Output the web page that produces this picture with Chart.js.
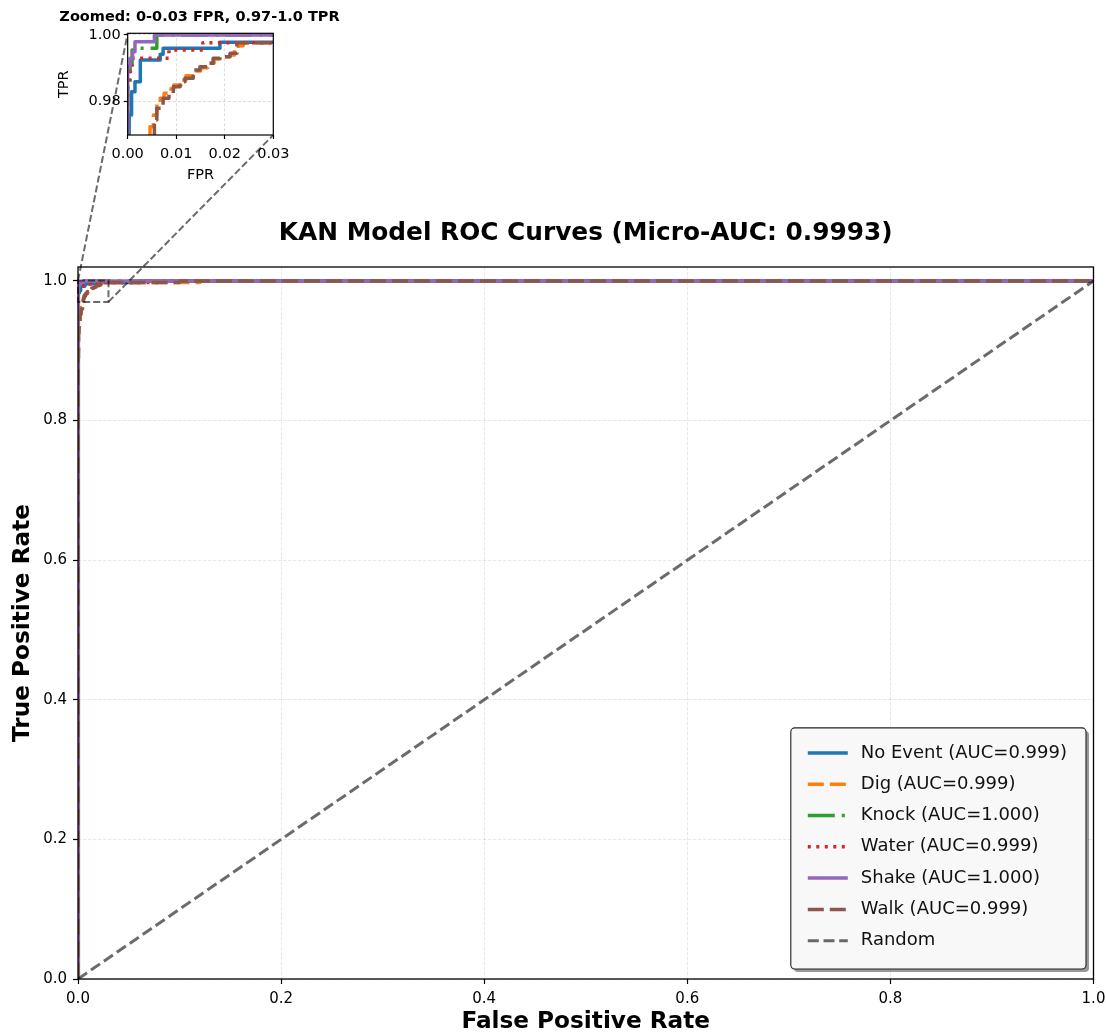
<!DOCTYPE html>
<html><head><meta charset="utf-8">
<script src="https://cdn.jsdelivr.net/npm/chart.js@4.4.1/dist/chart.umd.min.js"></script>
<style>
html,body{margin:0;padding:0;background:#fff;}
#wrap{position:relative;width:1106px;height:1032px;}
#main{position:absolute;left:0;top:0;}
#inset{position:absolute;left:0;top:0;}
</style></head><body>
<div id="wrap"><canvas id="main" width="1106" height="1032"></canvas><canvas id="inset" width="380" height="200"></canvas></div>
<script>
// ---------------- DATA ----------------
const chartTitle = 'KAN Model ROC Curves (Micro-AUC: 0.9993)';
const insetTitle = 'Zoomed: 0-0.03 FPR, 0.97-1.0 TPR';
const classNames = ['No Event', 'Dig', 'Knock', 'Water', 'Shake', 'Walk'];
const aucValues = ['0.999', '0.999', '1.000', '0.999', '1.000', '0.999'];
const randomLabel = 'Random';

// ROC corner points (fpr, tpr after each jump)
const noEventFpr = [0, 0, 0.0003, 0.0008, 0.0015, 0.0026, 0.0067, 0.0073, 0.019, 0.06, 1];
const noEventTpr = [0, 0.955, 0.976, 0.983, 0.986, 0.9925, 0.9942, 0.996, 0.9978, 1.0, 1.0];

const digFpr = [0, 0, 0.0005, 0.001, 0.002, 0.003, 0.004, 0.0046, 0.0053, 0.006, 0.0067, 0.0075, 0.0085, 0.0095, 0.011, 0.012, 0.0133, 0.015, 0.0165, 0.0178, 0.019, 0.021, 0.022, 0.0228, 0.0238, 0.12, 1];
const digTpr = [0, 0.90, 0.93, 0.945, 0.955, 0.962, 0.967, 0.9725, 0.976, 0.9795, 0.981, 0.9825, 0.9838, 0.985, 0.9865, 0.9878, 0.9892, 0.9902, 0.9915, 0.9928, 0.9935, 0.994, 0.9955, 0.9968, 0.9977, 1.0, 1.0];

const knockFpr = [0, 0, 0.0005, 0.0009, 0.0013, 0.006, 1];
const knockTpr = [0, 0.985, 0.991, 0.9955, 0.996, 1.0, 1.0];

const waterFpr = [0, 0, 0.0003, 0.0006, 0.001, 0.0085, 0.0155, 0.08, 1];
const waterTpr = [0, 0.9865, 0.989, 0.991, 0.993, 0.9955, 0.9977, 1.0, 1.0];

const shakeFpr = [0, 0, 0.0005, 0.001, 0.0015, 0.0055, 1];
const shakeTpr = [0, 0.9905, 0.993, 0.995, 0.998, 1.0, 1.0];

const walkFpr = [0, 0, 0.0005, 0.001, 0.002, 0.003, 0.0045, 0.0055, 0.006, 0.0073, 0.0085, 0.0094, 0.0108, 0.0118, 0.0135, 0.0149, 0.0165, 0.0176, 0.019, 0.0211, 0.0225, 0.1, 1];
const walkTpr = [0, 0.89, 0.925, 0.94, 0.952, 0.96, 0.966, 0.9745, 0.978, 0.981, 0.9825, 0.9845, 0.986, 0.987, 0.9895, 0.9905, 0.9915, 0.993, 0.9935, 0.9945, 0.9977, 1.0, 1.0];

const randomFpr = [0, 1];
const randomTpr = [0, 1];

const xTicks = [0, 0.2, 0.4, 0.6, 0.8, 1.0];
const yTicks = [0, 0.2, 0.4, 0.6, 0.8, 1.0];
const insetXTicks = [0, 0.01, 0.02, 0.03];
const insetYTicks = [0.98, 1.0];
const mainXRange = [0, 1];
const mainYRange = [0, 1.02];
const insetXRange = [0, 0.03];
const insetYRange = [0.97, 1.0005];

// ---------------- STYLE ----------------
const colors = ['#1f77b4', '#ff7f0e', '#2ca02c', '#d62728', '#9467bd', '#8c564b'];
const dashes = [[], [16, 6], [27, 7, 3, 7], [3, 5.5], [], [16, 6]];
const FONT = 'DejaVu Sans';
Chart.defaults.font.family = FONT;
Chart.defaults.color = '#000';

const allFpr = [noEventFpr, digFpr, knockFpr, waterFpr, shakeFpr, walkFpr];
const allTpr = [noEventTpr, digTpr, knockTpr, waterTpr, shakeTpr, walkTpr];

function staircase(xs, ys) {
  const pts = [{x: xs[0], y: ys[0]}];
  for (let i = 1; i < xs.length; i++) {
    pts.push({x: xs[i], y: ys[i - 1]});
    pts.push({x: xs[i], y: ys[i]});
  }
  return pts;
}

function makeDatasets(withRandom) {
  const n = classNames.length;
  const ds = classNames.map((name, i) => ({
    label: name + ' (AUC=' + aucValues[i] + ')',
    data: staircase(allFpr[i], allTpr[i]),
    borderColor: colors[i], backgroundColor: colors[i],
    borderWidth: 3.5, borderDash: dashes[i],
    borderJoinStyle: 'round', borderCapStyle: 'butt',
    showLine: true, pointRadius: 0, fill: false, clip: 0,
    order: n + 1 - i
  }));
  if (withRandom) {
    ds.push({
      label: randomLabel,
      data: randomFpr.map((x, j) => ({x: x, y: randomTpr[j]})),
      borderColor: 'rgba(0,0,0,0.58)', backgroundColor: 'rgba(0,0,0,0.58)',
      borderWidth: 3, borderDash: [11, 4.7], borderCapStyle: 'butt',
      showLine: true, pointRadius: 0, fill: false, clip: 0, order: 0
    });
  }
  return ds;
}

function fixedTicks(list) {
  return function (scale) { scale.ticks = list.map(v => ({value: v})); };
}

// ---------------- INSET ----------------
const insetPlugin = {
  id: 'insetDecor',
  beforeDraw(chart) {
    const a = chart.chartArea, ctx = chart.ctx;
    ctx.save(); ctx.fillStyle = '#fff';
    ctx.fillRect(a.left, a.top, a.right - a.left, a.bottom - a.top);
    ctx.restore();
  },
  afterDatasetsDraw(chart) {
    const a = chart.chartArea, ctx = chart.ctx;
    ctx.save(); ctx.strokeStyle = '#000'; ctx.lineWidth = 1.2; ctx.setLineDash([]);
    ctx.strokeRect(a.left, a.top, a.right - a.left, a.bottom - a.top);
    ctx.restore();
  }
};

const insetChart = new Chart(document.getElementById('inset'), {
  type: 'scatter',
  data: {datasets: makeDatasets(false)},
  plugins: [insetPlugin],
  options: {
    responsive: false, animation: false, events: [],
    layout: {padding: {left: 27.7, right: 8.7, top: 0, bottom: 0}},
    plugins: {
      legend: {display: false}, tooltip: {enabled: false},
      title: {display: true, text: insetTitle, color: '#000', font: {size: 14.5, weight: 'bold'}, padding: {top: 8.3, bottom: 7.6}}
    },
    scales: {
      x: {
        type: 'linear', min: insetXRange[0], max: insetXRange[1],
        afterBuildTicks: fixedTicks(insetXTicks),
        ticks: {callback: v => Number(v).toFixed(2), font: {size: 14.5}, padding: 7, maxRotation: 0, autoSkip: false},
        grid: {color: 'rgba(0,0,0,0.13)', lineWidth: 1, tickColor: '#000', tickLength: 4, tickWidth: 1.2},
        border: {display: false, dash: [3, 2]},
        title: {display: true, text: 'FPR', font: {size: 14.5}, padding: {top: 0, bottom: 16.3}},
        afterFit: s => { s.height = 65; s.paddingLeft = 0; s.paddingRight = 0; }
      },
      y: {
        type: 'linear', min: insetYRange[0], max: insetYRange[1],
        afterBuildTicks: fixedTicks(insetYTicks),
        ticks: {callback: v => Number(v).toFixed(2), font: {size: 14.5}, padding: 3, autoSkip: false},
        grid: {color: 'rgba(0,0,0,0.13)', lineWidth: 1, tickColor: '#000', tickLength: 4, tickWidth: 1.2},
        border: {display: false, dash: [3, 2]},
        title: {display: true, text: 'TPR', font: {size: 14.5}, padding: {top: 27.6, bottom: 0}},
        afterFit: s => { s.width = 100; }
      },
      yr: {
        axis: 'y', position: 'right', type: 'linear', min: insetYRange[0], max: insetYRange[1],
        ticks: {display: false}, grid: {display: false, drawTicks: false}, border: {display: false},
        afterFit: s => { s.width = 98; }
      }
    }
  }
});

// ---------------- MAIN ----------------
const mainPlugin = {
  id: 'mainDecor',
  afterDatasetsDraw(chart) {
    const ctx = chart.ctx, a = chart.chartArea;
    const xs = chart.scales.x, ys = chart.scales.y;
    // inset indicator rectangle and connectors
    const rl = xs.getPixelForValue(insetXRange[0]), rr = xs.getPixelForValue(insetXRange[1]);
    const rt = ys.getPixelForValue(insetYRange[1]), rb = ys.getPixelForValue(insetYRange[0]);
    const ia = insetChart.chartArea;
    const ic = insetChart.canvas;
    const ox = ic.offsetLeft, oy = ic.offsetTop;
    ctx.save();
    ctx.strokeStyle = 'rgba(0,0,0,0.58)'; ctx.lineWidth = 2; ctx.setLineDash([7, 3]);
    ctx.strokeRect(rl, rt, rr - rl, rb - rt);
    if (ia) {
      ctx.beginPath(); ctx.moveTo(rl, rt); ctx.lineTo(ox + ia.left, oy + ia.top); ctx.stroke();
      ctx.beginPath(); ctx.moveTo(rr, rb); ctx.lineTo(ox + ia.right, oy + ia.bottom); ctx.stroke();
    }
    ctx.restore();
    // frame
    ctx.save(); ctx.strokeStyle = '#000'; ctx.lineWidth = 1.3; ctx.setLineDash([]);
    ctx.strokeRect(a.left, a.top, a.right - a.left, a.bottom - a.top);
    ctx.restore();
    // legend
    const dsets = chart.data.datasets;
    ctx.save();
    ctx.font = '18px "' + FONT + '"';
    let maxW = 0;
    dsets.forEach(d => { maxW = Math.max(maxW, ctx.measureText(d.label).width); });
    const rowH = 31.3;
    const bw = 70 + maxW + 19;
    const bh = dsets.length * rowH + 22;
    const bx = a.right - 7.5 - bw;
    const by = a.bottom - 10 - bh;
    ctx.fillStyle = 'rgba(0,0,0,0.4)';
    ctx.beginPath(); ctx.roundRect(bx + 3, by + 3, bw, bh, 4); ctx.fill();
    ctx.fillStyle = '#f8f8f8';
    ctx.beginPath(); ctx.roundRect(bx, by, bw, bh, 4); ctx.fill();
    ctx.strokeStyle = '#222'; ctx.lineWidth = 1.1;
    ctx.stroke();
    dsets.forEach((d, i) => {
      const cy = by + 25 + i * rowH;
      ctx.strokeStyle = d.borderColor; ctx.lineWidth = d.borderWidth;
      ctx.setLineDash(d.borderDash || []); ctx.lineCap = 'butt';
      ctx.beginPath(); ctx.moveTo(bx + 17, cy); ctx.lineTo(bx + 57, cy); ctx.stroke();
      ctx.setLineDash([]);
      ctx.fillStyle = '#111'; ctx.textBaseline = 'middle'; ctx.textAlign = 'left';
      ctx.fillText(d.label, bx + 70, cy);
    });
    ctx.restore();
  }
};

const mainChart = new Chart(document.getElementById('main'), {
  type: 'scatter',
  data: {datasets: makeDatasets(true)},
  plugins: [mainPlugin],
  options: {
    responsive: false, animation: false, events: [],
    layout: {padding: {left: 0, right: 12.5, top: 0, bottom: 0}},
    plugins: {legend: {display: false}, tooltip: {enabled: false}, title: {display: false}},
    scales: {
      x: {
        type: 'linear', min: mainXRange[0], max: mainXRange[1],
        afterBuildTicks: fixedTicks(xTicks),
        ticks: {callback: v => Number(v).toFixed(1), font: {size: 15}, padding: 6, maxRotation: 0, autoSkip: false},
        grid: {color: 'rgba(0,0,0,0.09)', lineWidth: 1, tickColor: '#000', tickLength: 5, tickWidth: 1.2},
        border: {display: false, dash: [3.5, 1.5]},
        title: {display: true, text: 'False Positive Rate', font: {size: 23.2, weight: 'bold'}, padding: {top: 0, bottom: -4}},
        afterFit: s => { s.height = 53; s.paddingLeft = 0; s.paddingRight = 0; }
      },
      y: {
        type: 'linear', min: mainYRange[0], max: mainYRange[1],
        afterBuildTicks: fixedTicks(yTicks),
        ticks: {callback: v => Number(v).toFixed(1), font: {size: 15}, padding: 6, autoSkip: false},
        grid: {color: 'rgba(0,0,0,0.09)', lineWidth: 1, tickColor: '#000', tickLength: 5, tickWidth: 1.2},
        border: {display: false, dash: [3.5, 1.5]},
        title: {display: true, text: 'True Positive Rate', font: {size: 23.2, weight: 'bold'}, padding: {top: 9, bottom: 0}},
        afterFit: s => { s.width = 78; }
      },
      xt: {
        axis: 'x', position: 'top', type: 'linear', min: mainXRange[0], max: mainXRange[1],
        ticks: {display: false}, grid: {display: false, drawTicks: false}, border: {display: false},
        title: {display: true, text: chartTitle, font: {size: 24.8, weight: 'bold'}, padding: {top: 219.1, bottom: 0}},
        afterFit: s => { s.height = 267; s.paddingLeft = 0; s.paddingRight = 0; }
      }
    }
  }
});
</script>
</body></html>
